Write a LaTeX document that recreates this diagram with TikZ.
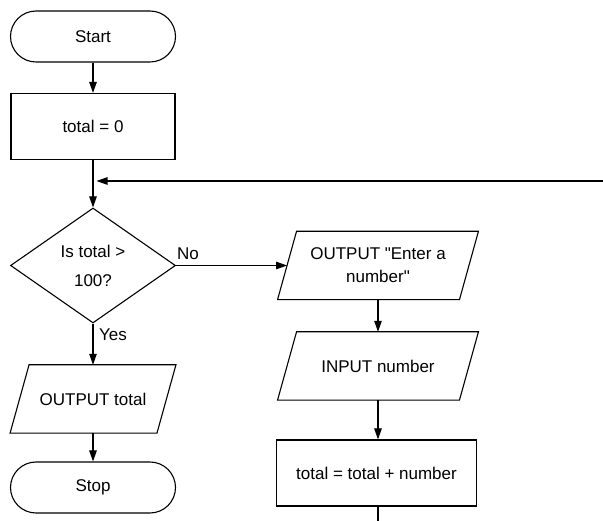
\documentclass[tikz,border=0pt]{standalone}
\usepackage{fontspec}
\setmainfont{Liberation Sans}
\usetikzlibrary{shapes.geometric,arrows.meta}
\begin{document}
\begin{tikzpicture}[x=1pt,y=-1pt,
  every node/.style={font=\fontsize{17}{29}\selectfont, align=center, inner sep=0pt},
  line/.style={line width=1.1pt, draw=black},
  arr/.style={line, -{Triangle[length=11pt,width=7.5pt]}},
  term/.style={line, rectangle, rounded corners=25.5pt, minimum width=165pt, minimum height=51pt},
  proc/.style={line, rectangle, minimum height=66pt},
  dec/.style={line, diamond, minimum width=165pt, minimum height=115pt, aspect=1.43},
  io/.style={rectangle, minimum height=68pt},
  lbl/.style={anchor=west}]
\useasboundingbox (0,0) rectangle (603,521);
% nodes
\node[term] (start) at (93,36.5) {Start};
\node[proc, minimum width=164pt] (init) at (93,126.5) {total = 0};
\node[dec] (dec) at (93,265.5) {Is total \textgreater\\100?};
\node[io, minimum width=146.5pt] (outt) at (93,399) {OUTPUT total};
\node[term] (stop) at (93,487.5) {Stop};
\node[io, minimum width=181.5pt, font=\fontsize{17}{23}\selectfont] (oute) at (378,265.5) {OUTPUT \textquotedbl Enter a\\number\textquotedbl};
\node[io, minimum width=181.5pt] (inp) at (378,366) {INPUT number};
\node[proc, minimum width=200pt] (add) at (376.5,473) {total = total + number};
% parallelogram outlines
\foreach \n in {outt,oute,inp}{
  \draw[line] ([xshift=9.5pt]\n.north west) -- ([xshift=9.5pt]\n.north east)
    -- ([xshift=-9.5pt]\n.south east) -- ([xshift=-9.5pt]\n.south west) -- cycle;
}
% coordinates for free ends
\coordinate (loopR) at (603,181);
\coordinate (loopL) at (96.5,181);
\coordinate (bottom) at (378,521);
% connectors
\draw[arr] (start) -- (init);
\draw[arr] (init) -- (dec);
\draw[arr] (loopR) -- (loopL);
\draw[arr] (dec.east) -- (oute.west);
\draw[arr] (dec.south) -- (outt.north);
\draw[arr] (outt) -- (stop);
\draw[arr] (oute) -- (inp);
\draw[arr] (inp.south) -- (inp.south |- add.north);
\draw[line] (add.south -| bottom) -- (bottom);
% labels
\node[lbl] (no) at (177,254) {No};
\node[lbl] (yes) at (99,335) {Yes};
\end{tikzpicture}
\end{document}
